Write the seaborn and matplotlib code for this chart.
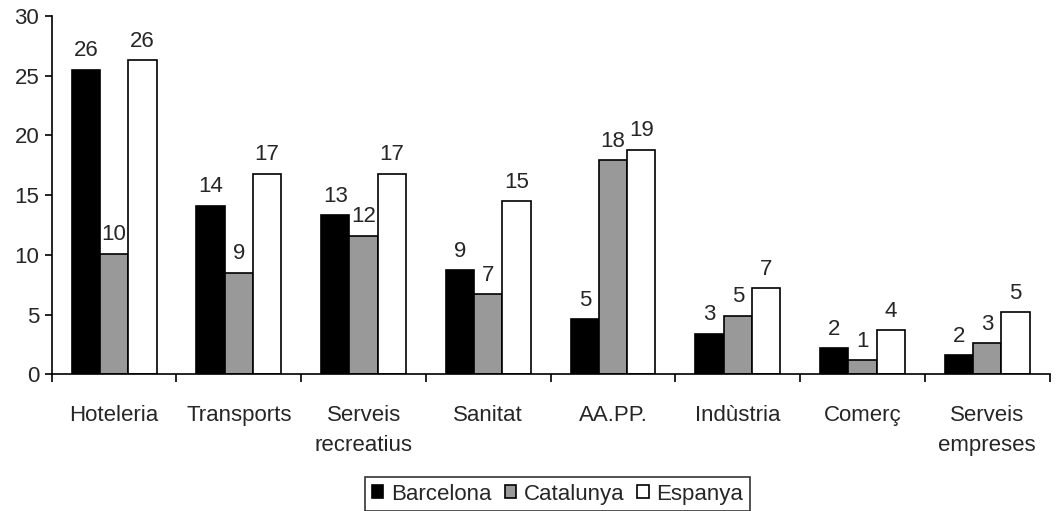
import numpy as np
import pandas as pd
import matplotlib
matplotlib.use("Agg")
import matplotlib.pyplot as plt
import seaborn as sns
from matplotlib.ticker import FixedLocator

sectors = ["Hoteleria", "Transports", "Serveis\nrecreatius", "Sanitat",
           "AA.PP.", "Indùstria", "Comerç", "Serveis\nempreses"]
regions = ["Barcelona", "Catalunya", "Espanya"]
barcelona = [25.5, 14.1, 13.3, 8.7, 4.6, 3.4, 2.2, 1.6]
catalunya = [10.1, 8.5, 11.6, 6.7, 17.9, 4.9, 1.2, 2.6]
espanya = [26.3, 16.8, 16.8, 14.5, 18.8, 7.2, 3.7, 5.2]
colors = ["#000000", "#999999", "#ffffff"]

df = pd.DataFrame({
    "sector": sectors * 3,
    "region": [r for r in regions for _ in sectors],
    "value": barcelona + catalunya + espanya,
})

sns.set_style("ticks")
plt.rcParams["font.family"] = ["Liberation Sans", "DejaVu Sans"]
FS = 16

fig = plt.figure(figsize=(10.56, 5.11), dpi=100)
ax = fig.add_axes([0.049, 0.2675, 0.945, 0.7015])

sns.barplot(data=df, x="sector", y="value", hue="region", palette=colors,
            saturation=1, edgecolor="black", linewidth=1.2, width=0.68,
            ax=ax, legend=True)

# etiquetes de valor arrodonides
for cont in ax.containers:
    vals = [b.get_height() for b in cont]
    ax.bar_label(cont, labels=[f"{int(np.floor(v + 0.51))}" for v in vals],
                 padding=6, fontsize=FS)

ax.set_ylim(0, 30)
ax.set_xlim(-0.5, len(sectors) - 0.5)
ax.set_yticks(range(0, 31, 5))
ax.set_xlabel("")
ax.set_ylabel("")
for s in ["top", "right"]:
    ax.spines[s].set_visible(False)
for s in ["left", "bottom"]:
    ax.spines[s].set_color("black")
    ax.spines[s].set_linewidth(1.2)

ax.tick_params(axis="y", labelsize=FS, length=5, width=1.2, color="black", pad=4)
ax.tick_params(axis="x", which="major", labelsize=FS, length=0, pad=22)
for t in ax.get_xticklabels():
    t.set_linespacing(1.55)
ax.xaxis.set_minor_locator(FixedLocator(np.arange(-0.5, len(sectors), 1.0)))
ax.tick_params(axis="x", which="minor", length=6, width=1.2, color="black")

handles, labels = ax.get_legend_handles_labels()
ax.get_legend().remove()
leg = fig.legend(handles, labels, loc="upper center",
                 bbox_to_anchor=(557.5 / 1056, 1 - 477 / 511), ncol=3, fontsize=FS,
                 frameon=True, fancybox=False, edgecolor="black",
                 handlelength=0.5, handleheight=0.5, handletextpad=0.35,
                 columnspacing=0.6, borderpad=0.3, borderaxespad=0)
leg.get_frame().set_linewidth(1.2)

fig.savefig("out.png", dpi=100)
